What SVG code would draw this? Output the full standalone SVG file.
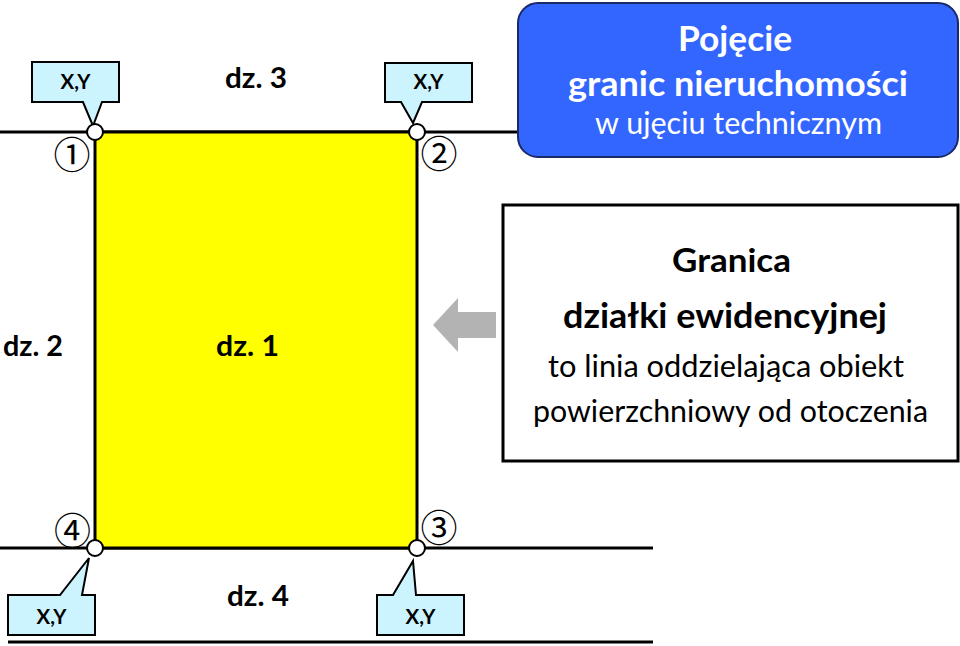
<svg xmlns="http://www.w3.org/2000/svg" width="960" height="646" viewBox="0 0 960 646">
<style>
  .ln { stroke: #000; stroke-width: 3; fill: none; }
  .pt { fill: #fff; stroke: #000; stroke-width: 2; }
  .callout { fill: #ccf4ff; stroke: #000; stroke-width: 2; stroke-linejoin: miter; }
  .xy { font-family: Lato, "Liberation Sans", sans-serif; font-weight: bold; font-size: 20px; fill: #000; text-anchor: middle; }
  .num { font-family: "Noto Sans CJK JP", "DejaVu Sans", sans-serif; font-size: 37px; fill: #000; text-anchor: middle; }
  .dz { font-family: Lato, "Liberation Sans", sans-serif; font-weight: bold; font-size: 28px; fill: #000; }
  .info { font-family: Lato, "Liberation Sans", sans-serif; fill: #000; text-anchor: middle; }
  .title { font-family: Lato, "Liberation Sans", sans-serif; fill: #fff; text-anchor: middle; }
</style>

<g id="connectors">
  <line class="ln" x1="0" y1="132" x2="520" y2="132"/>
  <line class="ln" x1="0" y1="548" x2="653" y2="548"/>
  <line class="ln" x1="8" y1="642" x2="653" y2="642"/>
  <polygon id="arrow" points="433,325 458,298 458,312 496,312 496,338 458,338 458,352" fill="#b3b3b3"/>
</g>

<g id="parcel">
  <rect x="95" y="132" width="322" height="416" fill="#ffff00" stroke="#000" stroke-width="3"/>
</g>

<g id="label-dz1"><text class="dz" x="216" y="356" textLength="63" lengthAdjust="spacingAndGlyphs">dz. 1</text></g>
<g id="label-dz2"><text class="dz" x="3" y="356" textLength="60" lengthAdjust="spacingAndGlyphs">dz. 2</text></g>
<g id="label-dz3"><text class="dz" x="225" y="88" textLength="62" lengthAdjust="spacingAndGlyphs">dz. 3</text></g>
<g id="label-dz4"><text class="dz" x="227" y="606" textLength="62" lengthAdjust="spacingAndGlyphs">dz. 4</text></g>

<g id="point1">
  <path class="callout" d="M32,62 H119 V102 H102 L93,126 L83,102 H32 Z"/>
  <text class="xy" x="75.5" y="89" textLength="30" lengthAdjust="spacingAndGlyphs">X,Y</text>
  <circle class="pt" cx="95" cy="132" r="8"/>
  <text class="num" x="72" y="169">①</text>
</g>

<g id="point2">
  <path class="callout" d="M385,63 H472 V102 H422 L413,123 L401,102 H385 Z"/>
  <text class="xy" x="428.5" y="89" textLength="30" lengthAdjust="spacingAndGlyphs">X,Y</text>
  <circle class="pt" cx="417" cy="132" r="8"/>
  <text class="num" x="439" y="168">②</text>
</g>

<g id="point3">
  <path class="callout" d="M377,595 H393 L413,561 L416,595 H464 V635 H377 Z"/>
  <text class="xy" x="420.5" y="624" textLength="30" lengthAdjust="spacingAndGlyphs">X,Y</text>
  <circle class="pt" cx="417" cy="548" r="8"/>
  <text class="num" x="439" y="542">③</text>
</g>

<g id="point4">
  <path class="callout" d="M8,595 H60 L89,558 L82,595 H95 V635 H8 Z"/>
  <text class="xy" x="51.5" y="624" textLength="30" lengthAdjust="spacingAndGlyphs">X,Y</text>
  <circle class="pt" cx="95" cy="548" r="8"/>
  <text class="num" x="72.5" y="545">④</text>
</g>

<g id="info-box">
  <rect x="503" y="205" width="455" height="256" fill="#fff" stroke="#000" stroke-width="3"/>
  <text class="info" x="731.5" y="272" font-size="32" font-weight="bold" textLength="119" lengthAdjust="spacingAndGlyphs">Granica</text>
  <text class="info" x="725" y="328" font-size="35" font-weight="bold" textLength="324" lengthAdjust="spacingAndGlyphs">działki ewidencyjnej</text>
  <text class="info" x="726" y="377" font-size="30" textLength="356" lengthAdjust="spacingAndGlyphs">to linia oddzielająca obiekt</text>
  <text class="info" x="730.5" y="422" font-size="30" textLength="395" lengthAdjust="spacingAndGlyphs">powierzchniowy od otoczenia</text>
</g>

<g id="title-box">
  <rect x="518" y="3" width="440" height="154" rx="20" ry="20" fill="#3366ff" stroke="#1a2a66" stroke-width="2"/>
  <text class="title" x="735" y="51" font-size="35" font-weight="bold" textLength="114" lengthAdjust="spacingAndGlyphs">Pojęcie</text>
  <text class="title" x="738" y="96" font-size="35" font-weight="bold" textLength="340" lengthAdjust="spacingAndGlyphs">granic nieruchomości</text>
  <text class="title" x="738.5" y="134" font-size="30" textLength="287" lengthAdjust="spacingAndGlyphs">w ujęciu technicznym</text>
</g>
</svg>
